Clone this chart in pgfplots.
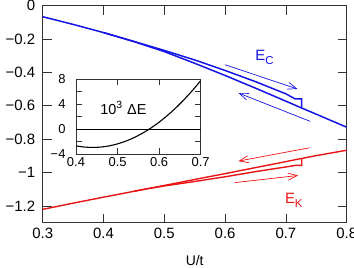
\documentclass[border=0pt]{standalone}
\usepackage{fontspec}
\setmainfont{Liberation Sans}
\usepackage{pgfplots}
\pgfplotsset{compat=1.18}
\usetikzlibrary{arrows.meta}
\definecolor{myblue}{RGB}{20,20,230}
\definecolor{myred}{RGB}{235,20,20}
\begin{document}
\begin{tikzpicture}
\begin{axis}[
  at={(0,0)}, anchor=south west,
  scale only axis, width=304bp, height=217bp,
  xmin=0.3, xmax=0.8, ymin=-1.3, ymax=0,
  xtick={0.3,0.4,0.5,0.6,0.7,0.8},
  xticklabels={0.3,0.4,0.5,0.6,0.7,0.8},
  ytick={-1.2,-1,-0.8,-0.6,-0.4,-0.2,0},
  yticklabels={−1.2,−1,−0.8,−0.6,−0.4,−0.2,0},
  tick align=inside, major tick length=9bp,
  axis line style={black!80, line width=0.8bp},
  every tick/.style={black!80, line width=0.8bp},
  tick label style={font=\fontsize{15}{17}\selectfont},
  yticklabel style={xshift=-4bp},
  xticklabel style={yshift=-2bp},
  xlabel={U/t},
  xlabel style={font=\fontsize{14}{16}\selectfont, yshift=-10bp},
  clip=false,
]
% E_C upper branch (from small U)
\addplot[myblue, line width=1.5bp] coordinates {
(0.30,-0.066) (0.35,-0.112) (0.40,-0.161) (0.45,-0.214) (0.50,-0.268)
(0.55,-0.325) (0.60,-0.388) (0.65,-0.455) (0.70,-0.528) (0.715,-0.558)
(0.726,-0.558) (0.726,-0.613)};
% E_C lower branch
\addplot[myblue, line width=1.5bp] coordinates {
(0.40,-0.161) (0.45,-0.215) (0.50,-0.275) (0.55,-0.345) (0.60,-0.418)
(0.65,-0.494) (0.70,-0.572) (0.726,-0.613) (0.75,-0.650) (0.80,-0.728)};
% E_K lower branch (from small U)
\addplot[myred, line width=1.4bp] coordinates {
(0.30,-1.220) (0.35,-1.183) (0.40,-1.147) (0.45,-1.112) (0.47,-1.098)
(0.50,-1.080) (0.55,-1.053) (0.60,-1.025) (0.65,-0.994) (0.70,-0.966)
(0.715,-0.957) (0.726,-0.957) (0.726,-0.915)};
% E_K upper branch
\addplot[myred, line width=1.4bp] coordinates {
(0.45,-1.112) (0.50,-1.077) (0.55,-1.041) (0.60,-1.006) (0.65,-0.970)
(0.70,-0.934) (0.726,-0.915) (0.75,-0.898) (0.80,-0.866)};
% arrows
\addplot[myblue, line width=0.7bp, -{Straight Barb[length=9bp,width=7bp]}] coordinates {(0.600,-0.354) (0.719,-0.499)};
\addplot[myblue, line width=0.7bp, -{Straight Barb[length=9bp,width=7bp]}] coordinates {(0.740,-0.693) (0.622,-0.523)};
\addplot[myred, line width=0.7bp, -{Straight Barb[length=9bp,width=7bp]}] coordinates {(0.739,-0.851) (0.622,-0.931)};
\addplot[myred, line width=0.7bp, -{Straight Barb[length=9bp,width=7bp]}] coordinates {(0.616,-1.060) (0.720,-1.017)};
\node[myblue, font=\fontsize{15}{17}\selectfont] at (axis cs:0.665,-0.31) {E\raisebox{-0.45ex}{\fontsize{11.5}{12}\selectfont C}};
\node[myred, font=\fontsize{15}{17}\selectfont] at (axis cs:0.713,-1.165) {E\raisebox{-0.45ex}{\fontsize{11.5}{12}\selectfont K}};
\end{axis}
\begin{axis}[
  at={(33.3bp,68.4bp)}, anchor=south west,
  scale only axis, width=124.7bp, height=75bp,
  xmin=0.4, xmax=0.7, ymin=-4, ymax=8,
  xtick={0.4,0.5,0.6,0.7},
  xticklabels={0.4,0.5,0.6,0.7},
  ytick={-4,0,4,8},
  yticklabels={−4,0,4,8},
  minor ytick={-2,2,6},
  tick align=inside, major tick length=6bp, minor tick length=6bp,
  axis line style={black!80, line width=0.8bp},
  every tick/.style={black!80, line width=0.8bp},
  tick label style={font=\fontsize{13}{15}\selectfont},
  yticklabel style={xshift=-7bp},
  axis background/.style={fill=white},
]
\addplot[black, line width=0.6bp] coordinates {(0.4,0) (0.7,0)};
\addplot[black, line width=1.1bp, smooth] coordinates {
(0.40,-2.65) (0.42,-2.84) (0.44,-2.90) (0.46,-2.84) (0.48,-2.65)
(0.50,-2.33) (0.52,-1.89) (0.54,-1.32) (0.56,-0.62) (0.58,0.20)
(0.60,1.14) (0.62,2.22) (0.64,3.42) (0.66,4.75) (0.68,6.20) (0.70,7.78)};
\node[font=\fontsize{14.5}{16}\selectfont] at (axis cs:0.514,3.4) {10\raisebox{0.75ex}{\fontsize{10.5}{11}\selectfont 3}\hspace{0.35em}ΔE};
\end{axis}
\pgfresetboundingbox
\path[use as bounding box] (-42.7bp,-45.3bp) rectangle (311.3bp,222.7bp);
\end{tikzpicture}
\end{document}
